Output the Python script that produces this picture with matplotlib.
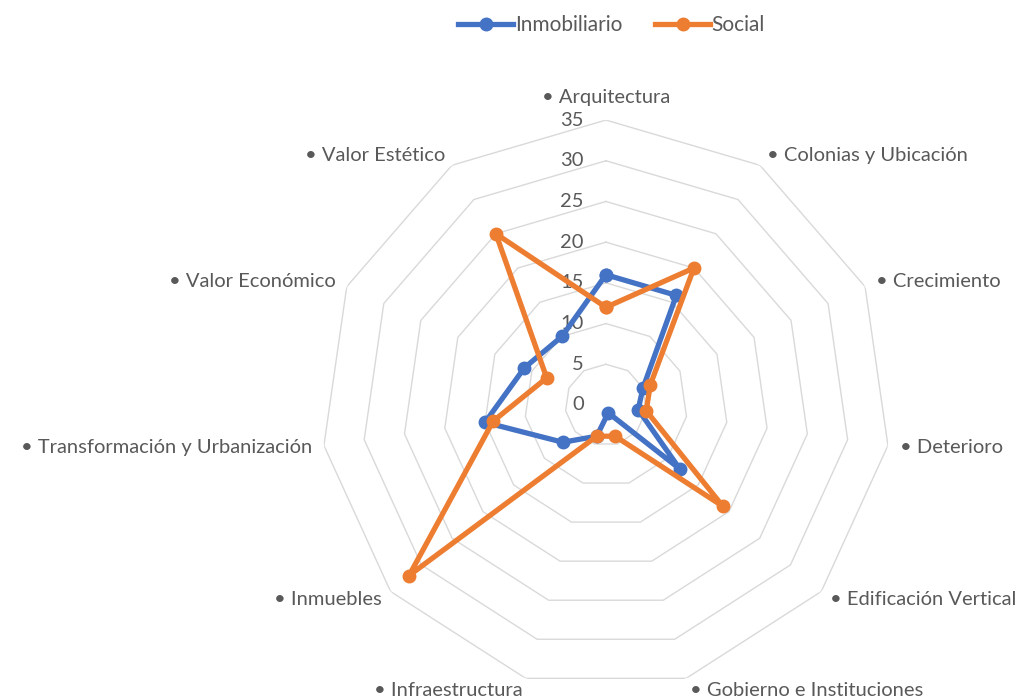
import numpy as np
import matplotlib
matplotlib.use('Agg')
import matplotlib.pyplot as plt

plt.rcParams['font.family'] = ['Lato', 'DejaVu Sans']

categorias = ['Arquitectura', 'Colonias y Ubicación', 'Crecimiento', 'Deterioro',
              'Edificación Vertical', 'Gobierno e Instituciones', 'Infraestructura',
              'Inmuebles', 'Transformación y Urbanización', 'Valor Económico',
              'Valor Estético']
inmobiliario = [16, 16, 5, 4, 12, 1, 4, 7, 15, 11, 10]
social = [12, 20, 6, 5, 19, 4, 4, 32, 14, 8, 25]
anillos = [0, 5, 10, 15, 20, 25, 30, 35]

azul = '#4472C4'
naranja = '#ED7D31'
gris_txt = '#595959'

n = len(categorias)
ang = np.linspace(0, 2 * np.pi, n, endpoint=False)
ang_c = np.append(ang, ang[0])

fig = plt.figure(figsize=(10.23, 6.97), dpi=100)
ax = fig.add_axes([0.3138, 0.010, 0.557, 0.818], projection='polar')
ax.set_theta_zero_location('N')
ax.set_theta_direction(-1)
ax.set_ylim(0, 35)
ax.grid(False)
ax.spines['polar'].set_visible(False)
ax.set_xticks([])
ax.set_yticks([])
ax.patch.set_alpha(0)

# anillos poligonales
for r in anillos[1:]:
    ax.plot(ang_c, [r] * (n + 1), color='#D9D9D9', lw=1.0, zorder=1)

for v in anillos:
    ax.annotate(str(v), xy=(0, v), xytext=(-16, 0), textcoords='offset points',
                ha='right', va='center', fontsize=14.5, color=gris_txt)

ax.plot(ang_c, inmobiliario + inmobiliario[:1], color=azul, lw=3.8, marker='o',
        ms=9, label='Inmobiliario', zorder=3, clip_on=False)
ax.plot(ang_c, social + social[:1], color=naranja, lw=3.8, marker='o',
        ms=9, label='Social', zorder=4, clip_on=False)

for a, lab in zip(ang, categorias):
    s = np.sin(a)
    if abs(s) < 0.1:
        ha = 'center'
    elif s > 0:
        ha = 'left'
    else:
        ha = 'right'
    r = 36.5
    va = 'center'
    if a == 0:
        r, va = 36.7, 'bottom'
    ax.text(a, r, '• ' + lab, ha=ha, va=va, fontsize=14.5, color=gris_txt,
            clip_on=False)

fig.legend(loc='center', bbox_to_anchor=(0.598, 0.964), ncol=2, frameon=False,
           fontsize=15, labelcolor=gris_txt, handlelength=2.6, handletextpad=0.1,
           columnspacing=1.6)

fig.savefig('out.png', dpi=100)
